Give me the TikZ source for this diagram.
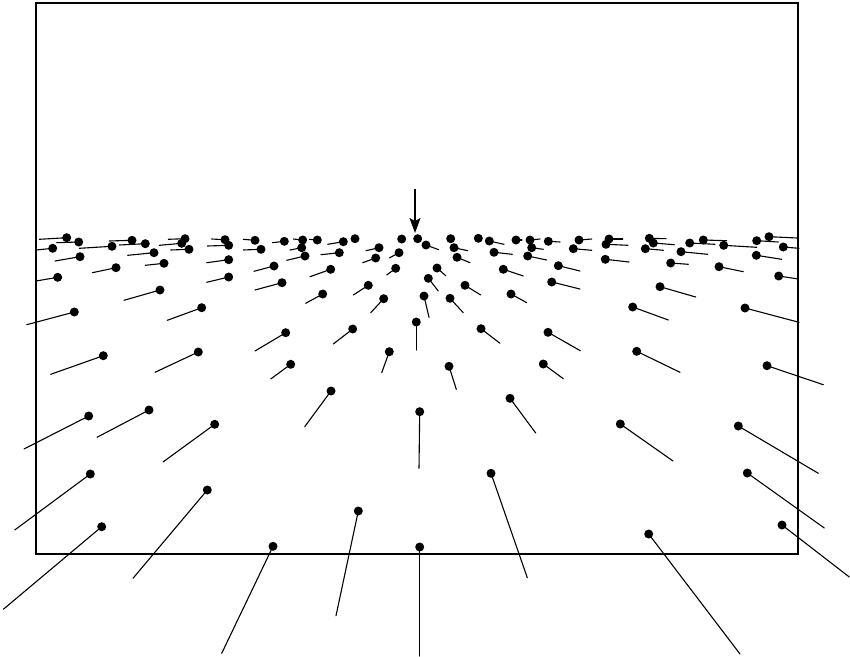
\documentclass[tikz,border=0pt]{standalone}
\usepackage{tikz}
\usetikzlibrary{arrows.meta}

\begin{document}
\begin{tikzpicture}[x=1pt, y=-1pt,
      frame/.style={draw=black, line width=1.3pt},
      flow/.style={black, line width=1.1pt, line cap=round},
      pointer/.style={-{Stealth[length=15pt, width=11pt, inset=3pt]}, line width=1.2pt}
    ]
      \useasboundingbox (0,0) rectangle (850,656);
      \draw[frame] (36,3) rectangle (798,554);
      % flow vectors: point / end of streak
      \foreach \px/\py/\ex/\ey in {
        103.3/355.7/50.7/374.3, 198.3/352/155/372.3, 285.7/332.7/255/351,
        352.7/329/333.3/344, 416.3/322/416.3/350, 290.7/364.3/270.7/379,
        389.3/351.7/381.7/372.7, 331/391/304.7/426.7, 419.7/411.7/419/468.3,
        88.7/416/24/449, 149/410/97/437.3, 214.7/424.3/163/462,
        90.3/474/14.7/530, 207.3/490/133/578.3, 101.7/526.7/3.3/609.3,
        273/546.3/221.7/653.3, 358.3/511/336/615.7, 419.7/547/419.7/656,
        74.3/312/26.7/324.7, 481/328.7/500/343.3, 548/332.3/580.3/350.7,
        636.7/351.3/680/372.3, 767/365.7/823.3/384.7, 449/366.3/456.3/389.3,
        543.3/364/563.3/378.7, 510/398.3/535.7/433, 620.3/424/673/461,
        738.3/426/818.3/473.3, 491/473.3/527.3/577.7, 747.3/473/824.3/528,
        782/525/849.3/577, 648.7/534/740/654,
        745/308/799/322.3, 778.7/276/798.3/279, 632.7/307/668.3/320,
        660/286.7/695.7/297, 719/266.7/743.3/271.7, 756.3/255.3/781.7/259.3,
        783.3/247/799/248.3, 769/236.7/797.3/238, 756.7/240.7/778.3/242,
        723.7/245.3/756.7/247.3, 703.3/240/726.7/240.7, 689.7/243/715/244.3,
        681/251.7/707.7/254.3, 670.7/263/688.3/264.3, 649.3/238.3/666/238.7,
        653.3/243/674.3/244.7, 645.3/248.7/663.3/250.3, 609/239/622.7/239,
        606/244.3/628/245.3, 605.3/259.3/629/262, 579/240/591.7/239,
        573.3/248.7/591.7/250.3, 558.3/265.7/580/271, 551.7/282/580/289,
        284.3/241.3/272.3/242.7, 302.7/240/293.3/239, 301.7/247.7/290/250,
        317.3/240/309.3/239.3, 343.3/241.7/327.7/244.3, 355/238.7/355/238.7,
        339.3/252.7/321/254.7, 305/256/286.7/260.3, 379/247.7/366/250.7,
        375.7/258/362.7/262.7, 399/252.7/389.3/258, 401.7/239/401.7/239,
        426/245/438.7/249.7, 450.7/238.7/450.7/238.7,
        454/247.7/467.7/250.7, 457/257.3/470/262.7, 478.3/238.3/478.3/238.3,
        489.3/241/504/244.3, 494/252.3/512.3/254.3, 516/240/522/240,
        530/240/540/239, 531.7/247.7/543.3/249.3, 527.7/256/546.7/260,
        548.3/241.3/560/242, 330.7/269.3/310/276.7, 395.7/268.3/386.7/275,
        437/268/445.7/275.7, 503.3/269.3/523.3/276, 368.3/285.3/353.3/295,
        428.3/278.3/438.3/291, 465/285.3/480.7/295, 322.7/294/305.7/303.3,
        383.7/298.7/370.7/312.7, 424/296/429/317.3, 450/298.3/463.3/312.7,
        511/294/526.7/302.7,
        66.7/237.7/39.3/239.3, 78.7/242/56.7/242.7, 52.7/248.3/36/250,
        112/246.3/79.3/248.3, 132/240.3/109.3/241, 145.3/243.7/119.3/245,
        154/252.7/127.7/255.3, 80/256.7/55/261, 185/238.7/168.3/239.3,
        181.7/243.3/159.3/245.3, 189/249.3/170.7/250, 164/263.3/145.3/265.3,
        116/267.7/92.3/272.7, 57.7/277.3/36/281, 225/239.7/211.7/239,
        228.7/245.3/207.3/246, 228.7/259.7/206.7/262.7, 228.7/277/206.7/282.3,
        255/240.3/243.3/239.3, 261/249.3/243.3/250, 274/266/254/271.3,
        160/290/124/300.3, 201.7/307.7/167.3/320.3, 282/282.7/255/290}
      {
        \draw[flow] (\px,\py) -- (\ex,\ey);
        \fill (\px,\py) circle[radius=4.5pt];
      }
      % focus of expansion
      \coordinate (foe) at (417.7,238.7);
      \fill (foe) circle[radius=4.5pt];
      \coordinate (tail) at (415,189);
      \coordinate (head) at (415,233);
      \draw[pointer] (tail) -- (head);
    \end{tikzpicture}
\end{document}
